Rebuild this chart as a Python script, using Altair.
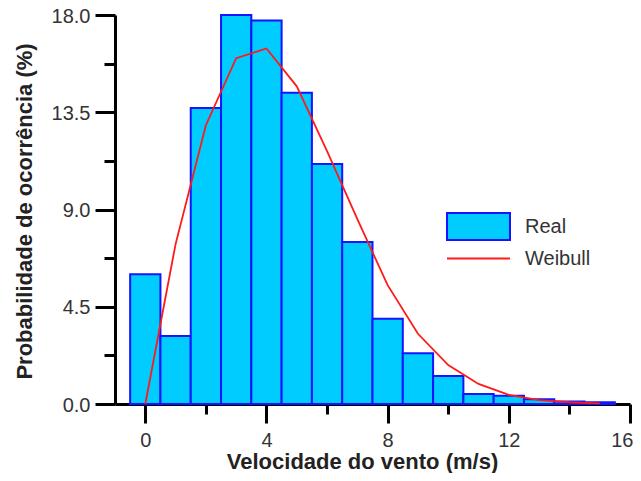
import altair as alt
import pandas as pd

speeds = list(range(16))
real = [6.0, 3.15, 13.7, 18.0, 17.75, 14.4, 11.1, 7.5, 3.95, 2.35, 1.3, 0.46, 0.38, 0.22, 0.12, 0.08]
weibull = [0.0, 7.4, 12.9, 16.0, 16.45, 14.7, 11.7, 8.55, 5.5, 3.25, 1.8, 0.93, 0.42, 0.18, 0.08, 0.03]
x_major = [0, 4, 8, 12, 16]
x_minor = [2, 6, 10, 14]
y_major = [0, 4.5, 9, 13.5, 18]
y_minor = [2.25, 6.75, 11.25, 15.75]

FONT = "Liberation Sans"

bars_df = pd.DataFrame({"speed": speeds, "real": real, "series": "Real"})
bars_df["lo"] = bars_df["speed"] - 0.5
bars_df["hi"] = bars_df["speed"] + 0.5
line_df = pd.DataFrame({"speed": speeds, "weibull": weibull, "series": "Weibull"})

xscale = alt.Scale(domain=[-1, 16], nice=False, zero=False)
yscale = alt.Scale(domain=[0, 18], nice=False)

major_x = alt.Axis(values=x_major, format="d", orient="bottom", tickSize=19, tickWidth=3,
                   tickColor="black", domainColor="black", domainWidth=3, grid=False,
                   labelFont=FONT, labelFontSize=20, labelColor="#333333", labelPadding=7,
                   labelFlush=True, labelFlushOffset=3,
                   titleFont=FONT, titleFontSize=22, titleFontWeight="bold", titleColor="#222222",
                   titleX=247, titleY=64, titleBaseline="alphabetic", titleAlign="center",
                   titleAnchor="middle")
major_y = alt.Axis(values=y_major, format=".1f", orient="left", tickSize=20, tickWidth=3,
                   tickColor="black", domainColor="black", domainWidth=3, grid=False,
                   labelFont=FONT, labelFontSize=20, labelColor="#333333", labelPadding=5,
                   labelOffset=1,
                   titleFont=FONT, titleFontSize=22, titleFontWeight="bold", titleColor="#222222",
                   titleX=-91, titleY=196, titleBaseline="middle", titleAlign="center",
                   titleAngle=270, titleAnchor="middle")
minor_x = alt.Axis(values=x_minor, orient="bottom", tickSize=10, tickWidth=3, tickColor="black",
                   domain=False, labels=False, grid=False, title=None)
minor_y = alt.Axis(values=y_minor, orient="left", tickSize=11, tickWidth=3, tickColor="black",
                   domain=False, labels=False, grid=False, title=None)

bars = alt.Chart(bars_df).mark_bar(stroke="#1414FF", strokeWidth=2, opacity=1).encode(
    x=alt.X("lo:Q", scale=xscale, axis=major_x, title="Velocidade do vento (m/s)"),
    x2="hi:Q",
    y=alt.Y("real:Q", scale=yscale, axis=major_y, title="Probabilidade de ocorrência (%)"),
    y2=alt.datum(0),
    fill=alt.Fill("series:N", scale=alt.Scale(domain=["Real"], range=["#00CCFF"]),
                  legend=alt.Legend(title=None, orient="none", legendX=349, legendY=197,
                                    symbolType="M-2.333,-1L2.333,-1L2.333,1L-2.333,1Z",
                                    symbolSize=729, symbolStrokeColor="#1414FF",
                                    symbolStrokeWidth=2, symbolOpacity=1,
                                    labelFont=FONT, labelFontSize=20, labelColor="#333333",
                                    labelOffset=32, padding=0)),
)

line = alt.Chart(line_df).mark_line(strokeWidth=1.8).encode(
    x=alt.X("speed:Q", scale=xscale, axis=minor_x),
    y=alt.Y("weibull:Q", scale=yscale, axis=minor_y),
    stroke=alt.Stroke("series:N", scale=alt.Scale(domain=["Weibull"], range=["#FF1A1A"]),
                      legend=alt.Legend(title=None, orient="none", legendX=349, legendY=229,
                                        symbolType="M-2.333,0L2.333,0",
                                        symbolSize=729, symbolStrokeWidth=2,
                                        symbolFillColor="transparent",
                                        labelFont=FONT, labelFontSize=20, labelColor="#333333",
                                        labelOffset=32, padding=0)),
)

chart = alt.layer(bars, line).resolve_axis(x="independent", y="independent").properties(
    width=515, height=389,
    autosize=alt.AutoSizeParams(type="none"),
    padding={"left": 107, "top": 7, "right": 3, "bottom": 69},
).configure_view(stroke=None)

chart.save("out.html", embed_options={"renderer": "svg", "actions": False})
